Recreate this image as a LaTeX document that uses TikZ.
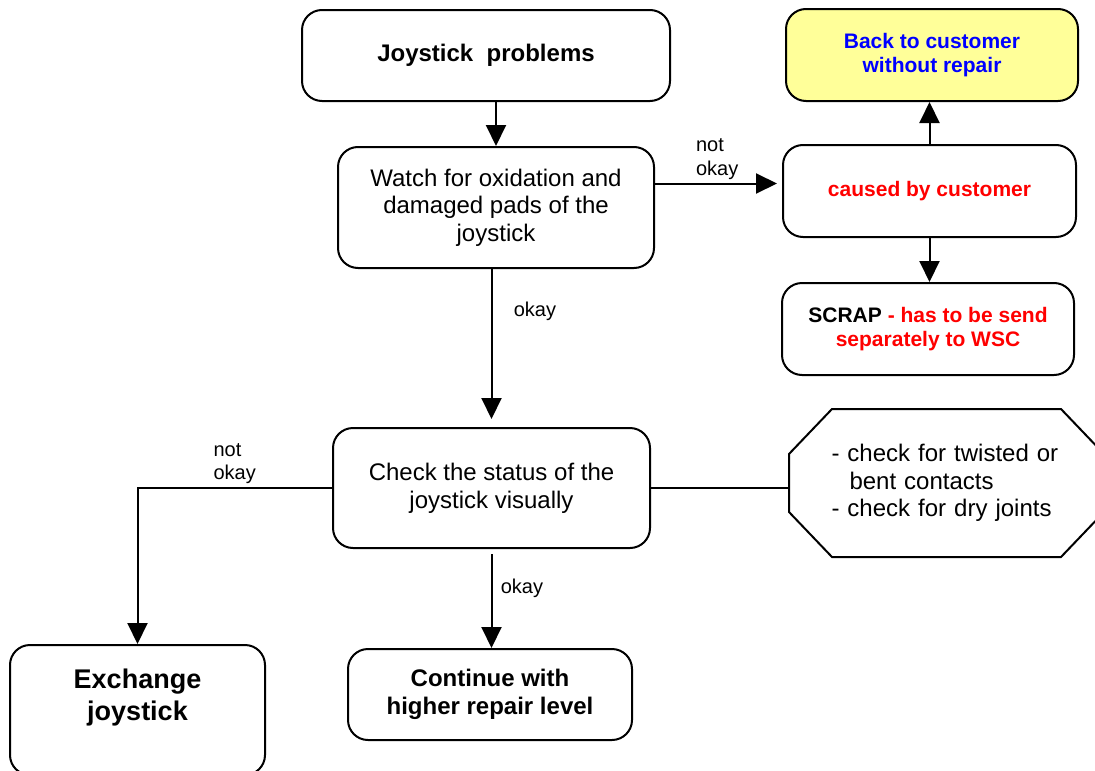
\documentclass[tikz,border=0pt]{standalone}
\usepackage{fontspec}
\setmainfont{Liberation Sans}
\usetikzlibrary{arrows.meta}
\definecolor{paleyellow}{RGB}{255,255,153}

\begin{document}
\begin{tikzpicture}[x=1pt,y=-1pt,auto,line width=2pt,
    >={Triangle[length=21pt,width=20pt]},
    box/.style={draw,rounded corners=20pt,align=center,font=\fontsize{24}{27.6}\selectfont},
    boxb/.style={box,font=\fontsize{24}{27.6}\selectfont\bfseries},
    boxs/.style={box,font=\fontsize{21}{24.5}\selectfont\bfseries},
    lbl/.style={align=left,font=\fontsize{20}{23.5}\selectfont}]
      \useasboundingbox (0,0) rectangle (1095,771);

      \node[boxb,minimum width=368pt,minimum height=91pt] (JP) at (486,55.5) {Joystick\ \ problems};
      \node[box,minimum width=316pt,minimum height=121pt] (WO) at (496,207.5) {Watch for oxidation and\\damaged pads of the\\joystick};
      \node[boxs,fill=paleyellow,text=blue,minimum width=292pt,minimum height=92pt] (BC) at (932,55) {Back to customer\\without repair};
      \node[boxs,text=red,minimum width=293pt,minimum height=92pt] (CC) at (929.5,191) {caused by customer};
      \node[boxs,minimum width=292pt,minimum height=92pt] (SC) at (928,329) {SCRAP \textcolor{red}{- has to be send}\\\textcolor{red}{separately to WSC}};
      \node[box,minimum width=317pt,minimum height=120pt] (CS) at (491.5,488) {Check the status of the\\joystick visually};
      \node[minimum width=313pt,minimum height=146pt,text width=230pt,align=left,font=\fontsize{24}{27.6}\selectfont] (CT) at (946.5,483)
        {- check for twisted or\\\hspace*{18pt}bent contacts\\- check for dry joints};
      \node[box,font=\fontsize{27}{32}\selectfont\bfseries,minimum width=255pt,minimum height=130pt] (EJ) at (137.5,710) {Exchange\\joystick\\[-12pt]\strut};
      \node[boxb,minimum width=284pt,minimum height=91pt] (CH) at (490,694.5) {Continue with\\higher repair level};

      % octagon round the checks
      \draw ([xshift=43pt]CT.north west) -- ([xshift=-43pt]CT.north east) -- ([yshift=-45pt]CT.north east)
        -- ([yshift=45pt]CT.south east) -- ([xshift=-43pt]CT.south east) -- ([xshift=43pt]CT.south west)
        -- ([yshift=45pt]CT.south west) -- ([yshift=-45pt]CT.north west) -- cycle;

      \coordinate (WOr) at ([yshift=24pt]WO.east);

      \draw[->] (JP.south -| WO.north) to (WO.north);
      \draw[->,shorten >=5pt] (WOr) to node[lbl,above,pos=0.49]{not\\okay} (WOr -| CC.west);
      \draw[->,shorten >=8pt] (WO.south -| CS.north) to node[lbl,right=18pt,pos=0.27]{okay} (CS.north);
      \draw[->] (CC.north) to (CC.north |- BC.south);
      \draw[->] (CC.south) to (CC.south |- SC.north);
      \draw[->] (CS.west) to node[lbl,above,pos=0.5]{not\\okay} (CS.west -| EJ.north) -- (EJ.north);
      \draw[->,shorten <=5pt] (CS.south) to node[lbl,right=5pt,pos=0.4]{okay} (CS.south |- CH.north);
      \draw (CS.east) -- (CS.east -| CT.west);
    \end{tikzpicture}
\end{document}
